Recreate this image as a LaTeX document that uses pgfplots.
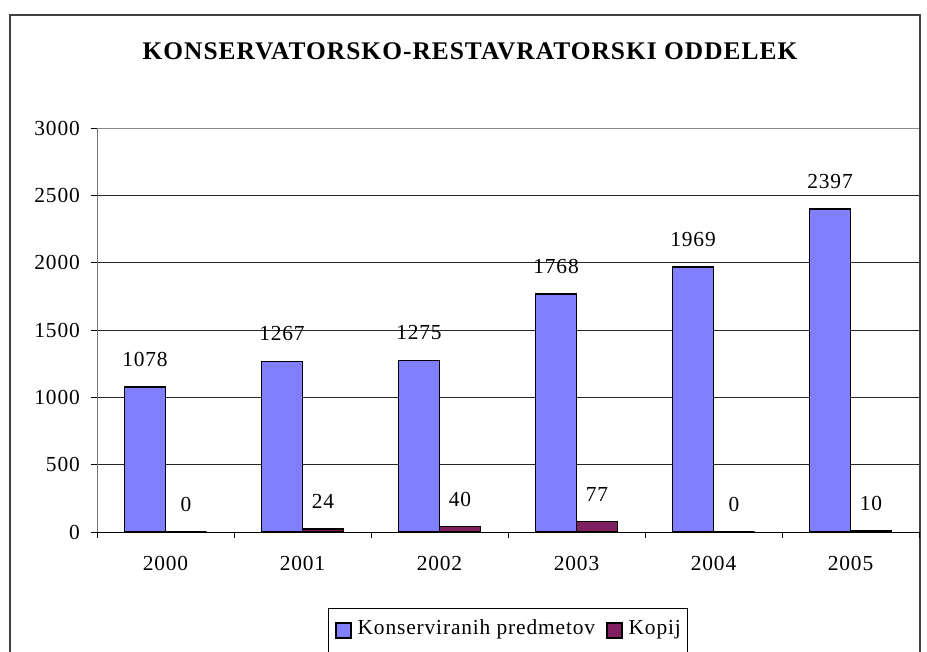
\documentclass[border=0pt]{standalone}
\usepackage{fontspec}
\setmainfont{Liberation Serif}[LetterSpace=4]
\usepackage{pgfplots}
\pgfplotsset{compat=1.18}
\definecolor{cblue}{HTML}{8080FF}
\definecolor{cpurp}{HTML}{802060}
\newcommand{\sm}{\fontsize{21.5}{24}\selectfont}
\begin{document}
\begin{tikzpicture}
\useasboundingbox (0bp,0bp) rectangle (927bp,-652bp);
\draw[black!75, line width=1.5bp] (10bp,-720bp) -- (10bp,-15bp) -- (920bp,-15bp) -- (920bp,-720bp);
\node[font=\bfseries\fontsize{25.5}{30}\selectfont, anchor=base, inner sep=0pt] at (470bp,-59bp) {KONSERVATORSKO-RESTAVRATORSKI ODDELEK};
\begin{axis}[
  at={(97bp,-532bp)}, anchor=south west,
  scale only axis, width=822bp, height=404bp,
  ybar=0pt, bar width=41bp,
  xmin=-0.5, xmax=5.5, ymin=0, ymax=3000,
  axis x line*=bottom, axis y line*=left,
  x axis line style={black, line width=0.9bp},
  y axis line style={black!55, line width=0.9bp},
  tick align=outside, major tick length=6bp,
  tick style={black, line width=0.9bp},
  xtick={-0.5,0.5,...,5.5}, xticklabels={},
  extra x ticks={0,1,2,3,4,5},
  extra x tick labels={2000,2001,2002,2003,2004,2005},
  extra x tick style={major tick length=0pt},
  xticklabel style={anchor=north, inner sep=0pt, yshift=-24bp, font=\sm},
  ytick={0,500,...,2500},
  extra y ticks={3000},
  extra y tick style={grid=major, major grid style={black!45, line width=0.9bp}},
  ymajorgrids, major grid style={black!85, line width=0.9bp},
  yticklabel style={anchor=east, inner sep=0pt, xshift=-11bp, font=\sm},
  /pgf/number format/assume math mode=true,
  /pgf/number format/1000 sep={},
  nodes near coords,
  every node near coord/.append style={anchor=base, inner sep=0pt, yshift=20.5bp, font=\sm, black},
  legend columns=2,
  legend style={at={(0.5,0)}, anchor=north, yshift=-76bp, draw=black, line width=0.9bp,
    inner xsep=7bp, inner ysep=11bp, column sep=6bp,
    nodes={inner sep=0pt, text height=15bp, text depth=30bp, font=\sm},
    /tikz/every even column/.append style={column sep=11bp}},
  legend image code/.code={\draw[#1, line width=1.5bp] (0bp,4bp) rectangle (15bp,19bp);},
]
\addplot[fill=cblue, draw=black, line width=1.6bp] coordinates {(0,1078) (1,1267) (2,1275) (3,1768) (4,1969) (5,2397)};
\addplot[fill=cpurp, draw=black, line width=1.6bp] coordinates {(0,0) (1,24) (2,40) (3,77) (4,0) (5,10)};
\legend{Konserviranih predmetov, Kopij}
\end{axis}
\end{tikzpicture}
\end{document}
